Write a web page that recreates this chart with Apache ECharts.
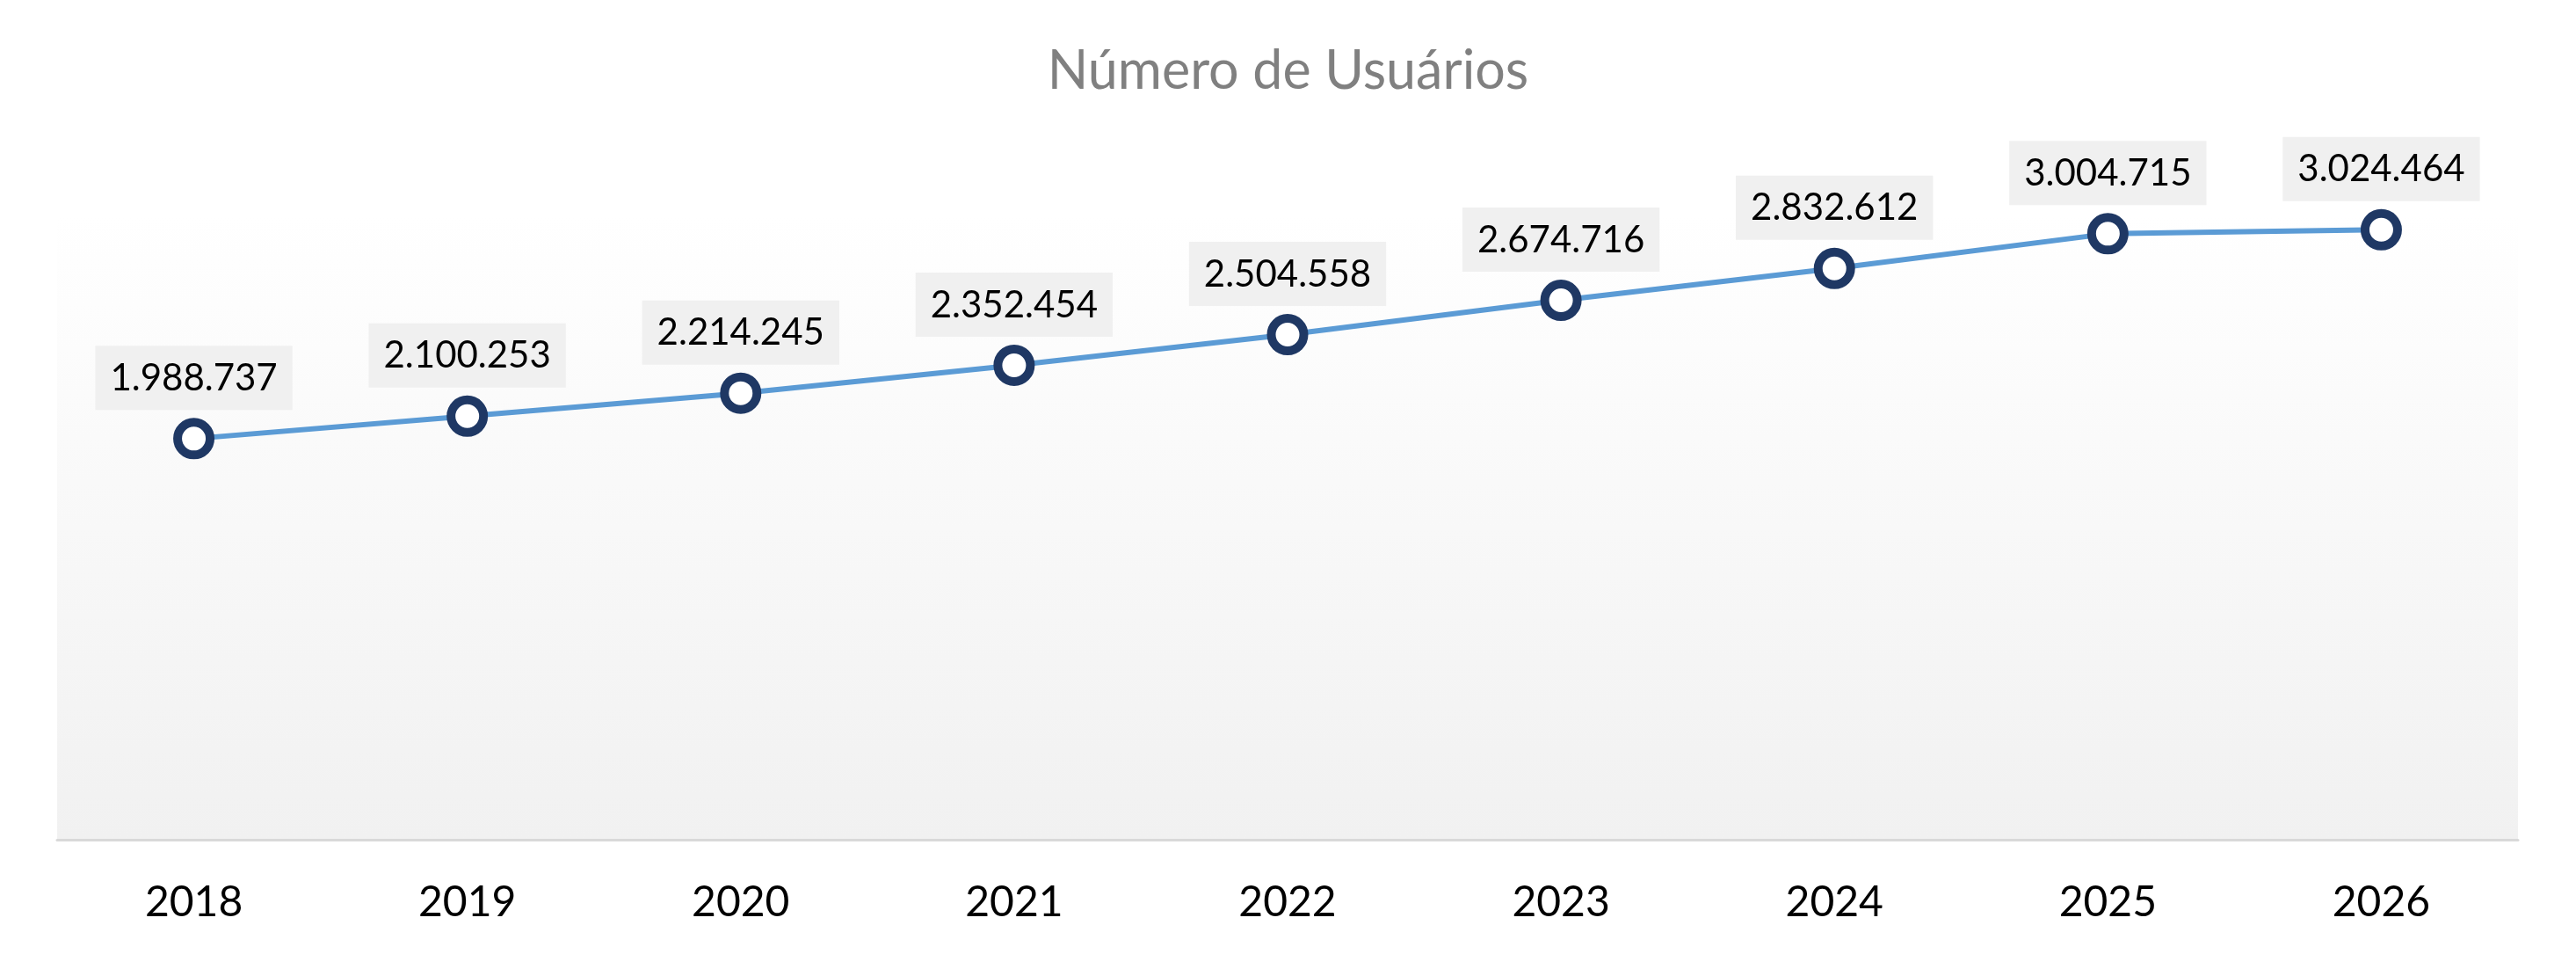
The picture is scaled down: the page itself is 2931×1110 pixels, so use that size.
<!DOCTYPE html>
<html>
<head>
<meta charset="utf-8">
<script src="https://cdn.jsdelivr.net/npm/echarts@6/dist/echarts.min.js"></script>
<style>
html,body{margin:0;padding:0;background:#ffffff;}
#chart{width:2931px;height:1110px;}
</style>
</head>
<body>
<div id="chart"></div>
<script>
const chartTitle = 'Número de Usuários';
const years = ['2018','2019','2020','2021','2022','2023','2024','2025','2026'];
const users = [1988737, 2100253, 2214245, 2352454, 2504558, 2674716, 2832612, 3004715, 3024464];

function fmtBR(v) {
  return String(v).replace(/\B(?=(\d{3})+(?!\d))/g, '.');
}

const chart = echarts.init(document.getElementById('chart'), null, {renderer: 'canvas'});
chart.setOption({
  animation: false,
  backgroundColor: '#ffffff',
  title: {
    text: chartTitle,
    left: 'center',
    top: 46,
    textStyle: {
      fontFamily: 'Lato',
      fontSize: 61,
      lineHeight: 60,
      fontWeight: 'normal',
      color: '#808080'
    }
  },
  grid: {
    left: 65,
    right: 66,
    top: 244,
    bottom: 155,
    show: true,
    borderWidth: 0,
    backgroundColor: new echarts.graphic.LinearGradient(0, 0, 0, 1, [
      {offset: 0, color: '#ffffff'},
      {offset: 1, color: '#f1f1f1'}
    ])
  },
  xAxis: {
    type: 'category',
    data: years,
    boundaryGap: true,
    axisLine: {show: true, lineStyle: {color: '#d9d9d9', width: 3}},
    axisTick: {show: false},
    splitLine: {show: false},
    axisLabel: {
      fontFamily: 'Lato',
      fontSize: 48,
      lineHeight: 48,
      color: '#000000',
      margin: 48
    }
  },
  yAxis: {
    type: 'value',
    min: 0,
    max: 3100000,
    show: false,
    splitLine: {show: false}
  },
  series: [{
    type: 'line',
    data: users,
    symbol: 'circle',
    symbolSize: 37,
    lineStyle: {color: '#5b9bd5', width: 6},
    itemStyle: {color: '#ffffff', borderColor: '#1f3864', borderWidth: 10},
    label: {
      show: true,
      position: 'top',
      distance: 9,
      formatter: p => fmtBR(p.value),
      fontFamily: 'Lato',
      fontSize: 42,
      lineHeight: 42,
      color: '#000000',
      backgroundColor: '#f0f0f0',
      padding: [16, 17, 15, 17]
    },
    z: 3
  }]
});
</script>
</body>
</html>
